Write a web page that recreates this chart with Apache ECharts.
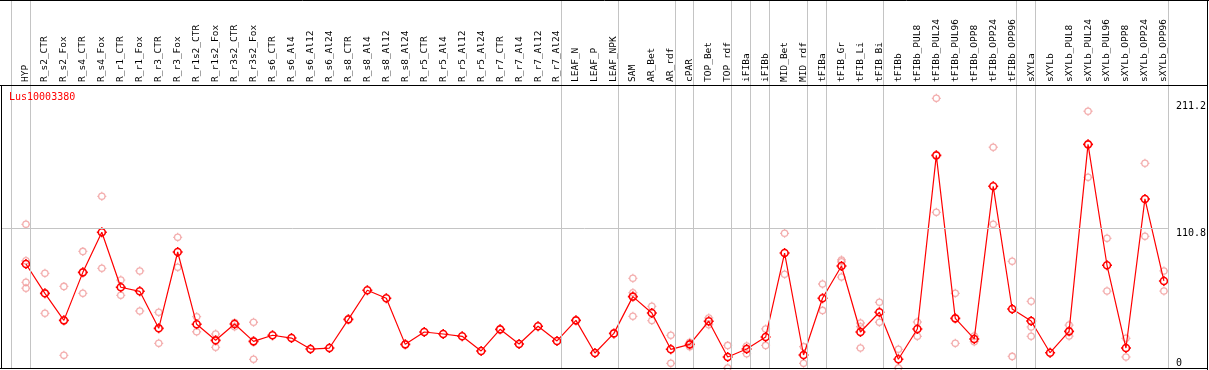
<!DOCTYPE html>
<html><head><meta charset="utf-8">
<script src="https://cdn.jsdelivr.net/npm/echarts@6/dist/echarts.min.js"></script>
<style>html,body{margin:0;padding:0;background:#fff}#c{width:1209px;height:370px}</style>
</head><body><div id="c"></div>
<script>
const geneName = 'Lus10003380';
const categories = ['HYP','R_s2_CTR','R_s2_Fox','R_s4_CTR','R_s4_Fox','R_r1_CTR','R_r1_Fox','R_r3_CTR','R_r3_Fox','R_r1s2_CTR','R_r1s2_Fox','R_r3s2_CTR','R_r3s2_Fox','R_s6_CTR','R_s6_Al4','R_s6_Al12','R_s6_Al24','R_s8_CTR','R_s8_Al4','R_s8_Al12','R_s8_Al24','R_r5_CTR','R_r5_Al4','R_r5_Al12','R_r5_Al24','R_r7_CTR','R_r7_Al4','R_r7_Al12','R_r7_Al24','LEAF_N','LEAF_P','LEAF_NPK','SAM','AR_Bet','AR_rdf','cPAR','TOP_Bet','TOP_rdf','iFIBa','iFIBb','MID_Bet','MID_rdf','tFIBa','tFIB_Gr','tFIB_Li','tFIB_Bi','tFIBb','tFIBb_PUL8','tFIBb_PUL24','tFIBb_PUL96','tFIBb_OPP8','tFIBb_OPP24','tFIBb_OPP96','sXYLa','sXYLb','sXYLb_PUL8','sXYLb_PUL24','sXYLb_PUL96','sXYLb_OPP8','sXYLb_OPP24','sXYLb_OPP96'];
const meanValues = [82.3,59.1,37.7,75.7,107.4,63.9,60.7,31.4,91.8,34.6,21.9,34.8,21.1,25.9,23.7,15.0,15.8,38.5,61.5,55.2,18.7,28.5,26.9,25.1,13.5,30.6,19.0,33.0,21.4,37.7,11.9,27.4,56.5,43.5,14.8,18.7,37.0,8.7,15.0,24.5,91.0,10.3,55.2,80.7,28.5,44.1,6.9,30.9,168.3,39.3,23.0,143.8,46.7,37.2,12.1,29.0,177.0,81.3,15.8,133.8,68.9];
const replicateValues = [
  [113.7,84.9,67.8,63.1],[74.9,43.3],[64.6,10.0],[92.3,59.1],[135.9,78.9],[69.6,57.5],[76.8,45.1],[44.1,19.5],[103.4,79.7],[40.6,28.7],[26.9,16.4],[35.9,32.7],[36.2,6.9],
  [],[],[],[],[],[],[],[],[],[],[],[],[],[],[],[],[],[],[],
  [71.0,59.6,40.9],[48.8,37.5],[25.9,3.7],[20.3,16.9],[39.6,34.3],[17.9,0],[17.4,11.3],[30.9,17.9],[106.6,74.2],[16.9,3.7],[66.5,45.6],[85.5,84.0,72.0],[35.6,32.7,15.8],[52.0,36.2],
  [14.8,0],[36.4,25.1],[213.4,123.2],[59.1,19.5],[25.3,20.8],[174.7,113.7],[84.4,9.2],[52.8,32.5,25.1],[],[34.0,25.3],[203.2,150.9],[102.6,60.9],[23.5,8.7],[162.0,104.2],[76.8,60.9]
];
// last category index of each sample group (separators drawn after them)
const groupEnds = [-1,0,28,31,34,35,37,38,39,41,42,45,52,53,60];
const gridLineValue = 110.8;
const yTickTop = [110.8, 211.2];
const yTickBottom = [0];

// layout constants
const STEP = 19, FIRST_X = 26, GRID_L = 1, GRID_R_X = 1170, PLOT_BOTTOM = 368, HEADER = 85;
const PX_PER_UNIT = 1.2635;
const SEP_OFFSET = 4 / STEP;
const xMin = (GRID_L - FIRST_X) / STEP;
const xMax = (GRID_R_X - FIRST_X) / STEP;
const yMax = PLOT_BOTTOM / PX_PER_UNIT;

const markerPath = 'path://M5,1.5C6.933,1.5 8.5,3.067 8.5,5C8.5,6.933 6.933,8.5 5,8.5C3.067,8.5 1.5,6.933 1.5,5C1.5,3.067 3.067,1.5 5,1.5Z M5,0L5,1.5 M5,8.5L5,10 M0,5L1.5,5 M8.5,5L10,5';
const mono = 'DejaVu Sans Mono';

const repData = [];
replicateValues.forEach((arr, i) => arr.forEach(v => repData.push([i, v])));

const chart = echarts.init(document.getElementById('c'), null, {renderer: 'canvas'});
const yAxisBase = {
  type: 'value', min: 0, max: yMax, position: 'right',
  axisLine: {show: false}, axisTick: {show: false}, splitLine: {show: false}
};
const blackLine = (x1, y1, x2, y2) => ({type: 'line', shape: {x1, y1, x2, y2}, style: {stroke: '#000', lineWidth: 1}, z: 100, silent: true});
chart.setOption({
  animation: false,
  backgroundColor: '#fff',
  title: {text: geneName, left: 9, top: 92, padding: 0, textStyle: {color: '#ff0000', fontSize: 10, fontFamily: mono, fontWeight: 'normal'}},
  grid: {left: GRID_L, right: 1209 - GRID_R_X, top: 0, bottom: 370 - PLOT_BOTTOM},
  xAxis: {
    type: 'value', min: xMin, max: xMax, position: 'top', offset: -HEADER,
    axisLine: {show: false},
    axisTick: {show: false}, splitLine: {show: false},
    axisLabel: {
      customValues: categories.map((_, i) => i),
      formatter: v => categories[Math.round(v)] || '',
      rotate: 90, margin: 3, fontSize: 9.5, fontFamily: mono, color: '#000', hideOverlap: false
    }
  },
  yAxis: [
    Object.assign({}, yAxisBase, {axisLabel: {customValues: yTickTop, verticalAlign: 'top', margin: 8, fontSize: 10, fontFamily: mono, color: '#000'}}),
    Object.assign({}, yAxisBase, {axisLabel: {customValues: yTickBottom, verticalAlign: 'bottom', margin: 8, fontSize: 10, fontFamily: mono, color: '#000'}})
  ],
  graphic: [
    blackLine(0, 0.5, 1209, 0.5),
    blackLine(1207.5, 0, 1207.5, 370),
    blackLine(1.5, HEADER, 1.5, 369),
    blackLine(0, PLOT_BOTTOM + 0.5, 1208, PLOT_BOTTOM + 0.5),
    blackLine(0, HEADER + 0.5, 1208, HEADER + 0.5)
  ],
  series: [
    {
      type: 'line', data: [], z: 1, silent: true,
      markLine: {
        silent: true, symbol: 'none', label: {show: false}, animation: false,
        lineStyle: {color: '#c4c4c4', width: 1, type: 'solid'},
        data: groupEnds.map(g => ({xAxis: g + SEP_OFFSET})).concat([{yAxis: gridLineValue}])
      }
    },
    {
      type: 'scatter', data: repData, z: 2, symbol: markerPath, symbolSize: 9,
      itemStyle: {color: 'rgba(0,0,0,0)', borderColor: '#f09a9a', borderWidth: 1.3}
    },
    {
      type: 'line', data: meanValues.map((v, i) => [i, v]), z: 3,
      symbol: markerPath, symbolSize: 10, showAllSymbol: true,
      lineStyle: {color: '#ff0000', width: 1.2},
      itemStyle: {color: 'rgba(0,0,0,0)', borderColor: '#ff0000', borderWidth: 1.6}
    }
  ]
});
</script>
</body></html>
